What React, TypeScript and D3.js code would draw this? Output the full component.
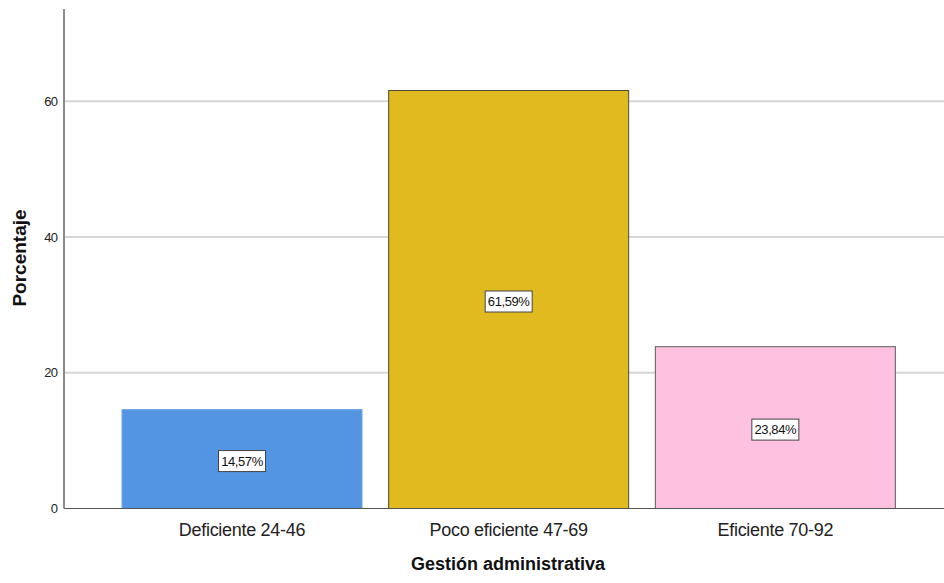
import React from "react";
import * as d3 from "d3";

const categories = ["Deficiente 24-46", "Poco eficiente 47-69", "Eficiente 70-92"];
const values = [14.57, 61.59, 23.84];
const valueLabels = ["14,57%", "61,59%", "23,84%"];
const colors = ["#5495E3", "#E0BA1F", "#FEC1E0"];
const strokes = ["#6aa3e6", "#4a4a3a", "#5a5a5a"];
const yTicks = [0, 20, 40, 60];

const W = 944;
const H = 583;
const axisX = 64;
const yTop = 9;
const yZero = 508.5;

export default function App() {
  const y = d3.scaleLinear().domain([0, 73.6]).range([yZero, yTop]);
  const x = d3
    .scaleBand<string>()
    .domain(categories)
    .range([108.67, 908.67])
    .paddingInner(0.1)
    .paddingOuter(0.05);
  const font = "Arial, 'Liberation Sans', sans-serif";
  return (
    <svg
      width={W}
      height={H}
      style={{ position: "absolute", left: 0, top: 0, background: "#fff" }}
      fontFamily={font}
    >
      {yTicks
        .filter((t) => t > 0)
        .map((t) => (
          <line key={"g" + t} x1={axisX} x2={W} y1={y(t)} y2={y(t)} stroke="#d6d6d6" strokeWidth={2} />
        ))}
      {categories.map((c, i) => (
        <rect
          key={c}
          x={x(c)!}
          y={y(values[i])}
          width={x.bandwidth()}
          height={y(0) - y(values[i])}
          fill={colors[i]}
          stroke={strokes[i]}
          strokeWidth={1}
        />
      ))}
      <line x1={axisX} x2={W} y1={yZero} y2={yZero} stroke="#555" strokeWidth={1} />
      <line x1={axisX} x2={axisX} y1={yTop} y2={yZero} stroke="#8a8a8a" strokeWidth={2} />
      {yTicks.map((t) => (
        <text key={"t" + t} x={57.5} y={y(t)} dy="0.36em" textAnchor="end" fontSize={13} letterSpacing={-0.6} fill="#222">
          {t}
        </text>
      ))}
      {categories.map((c, i) => {
        const cx = x(c)! + x.bandwidth() / 2;
        const cy = (y(values[i]) + y(0)) / 2 + 2;
        const bw = 47;
        const bh = 21;
        return (
          <g key={"l" + c}>
            <rect x={cx - bw / 2} y={cy - bh / 2} width={bw} height={bh} fill="#fff" stroke="#444" strokeWidth={1} />
            <text x={cx} y={cy} dy="0.36em" textAnchor="middle" fontSize={13} fill="#111" letterSpacing={-0.4}>
              {valueLabels[i]}
            </text>
          </g>
        );
      })}
      {categories.map((c) => (
        <text
          key={"c" + c}
          x={x(c)! + x.bandwidth() / 2}
          y={536}
          textAnchor="middle"
          fontSize={18}
          letterSpacing={-0.3}
          fill="#222"
        >
          {c}
        </text>
      ))}
      <text x={508} y={570} textAnchor="middle" fontSize={18} fontWeight="bold" fill="#111">
        Gestión administrativa
      </text>
      <text
        transform={`translate(26,258) rotate(-90)`}
        textAnchor="middle"
        fontSize={19}
        fontWeight="bold"
        fill="#111"
      >
        Porcentaje
      </text>
    </svg>
  );
}
